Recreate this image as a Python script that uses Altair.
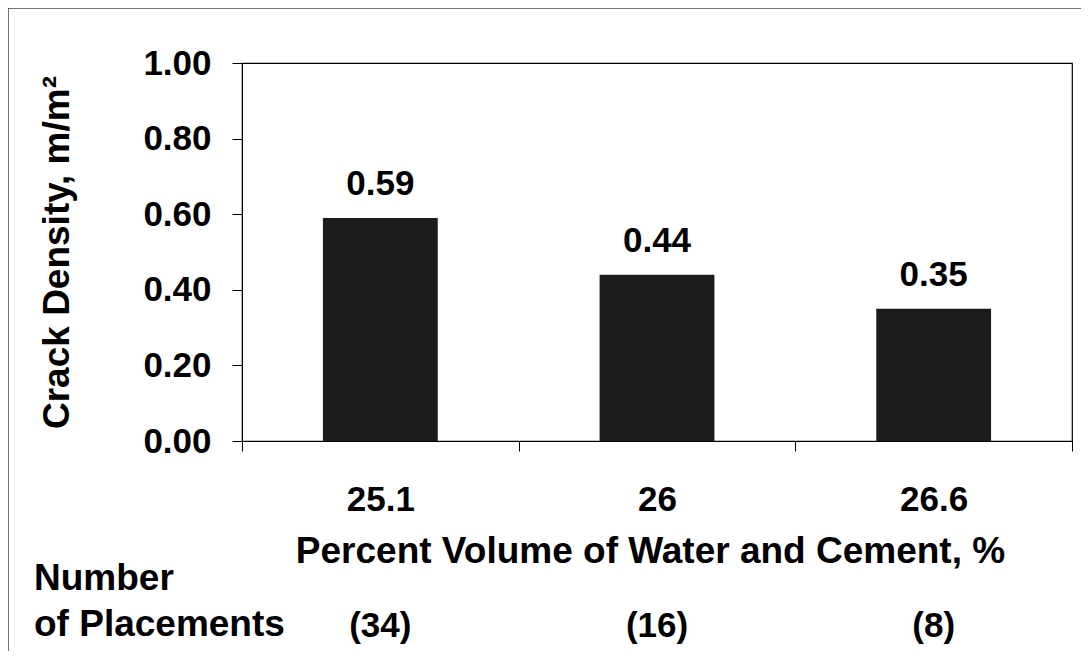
import altair as alt
import pandas as pd

categories = ["25.1", "26", "26.6"]
crack_density = [0.59, 0.44, 0.35]
value_labels = ["0.59", "0.44", "0.35"]
placements = ["(34)", "(16)", "(8)"]
y_ticks = [0.0, 0.2, 0.4, 0.6, 0.8, 1.0]
row_label = ["Number", "of Placements"]

df = pd.DataFrame({"cat": categories, "val": crack_density,
                   "lab": value_labels, "n": placements})
one = pd.DataFrame({"a": [0]})

FONT = "Liberation Sans"
FS = 35
TS = 37

x_enc = alt.X("cat:N", sort=categories,
              scale=alt.Scale(paddingInner=0, paddingOuter=0),
              axis=alt.Axis(title="Percent Volume of Water and Cement, %",
                            labelAngle=0, tickBand="extent", tickSize=10,
                            labelPadding=31, titlePadding=16, titleX=408,
                            labelFontSize=FS, titleFontSize=TS,
                            labelFont=FONT, titleFont=FONT,
                            labelFontWeight="bold", titleFontWeight="bold",
                            labelColor="black", titleColor="black",
                            domainColor="black", tickColor="black",
                            grid=False))
y_enc = alt.Y("val:Q", scale=alt.Scale(domain=[0, 1]),
              axis=alt.Axis(title="Crack Density, m/m²", values=y_ticks,
                            format=".2f", tickSize=10, labelPadding=21,
                            titlePadding=66,
                            labelFontSize=FS, titleFontSize=TS,
                            labelFont=FONT, titleFont=FONT,
                            labelFontWeight="bold", titleFontWeight="bold",
                            labelColor="black", titleColor="black",
                            domainColor="black", tickColor="black",
                            grid=False))

bars = alt.Chart(df).mark_bar(width={"band": 0.415}, color="#1c1c1c").encode(
    x=x_enc, y=y_enc)

labels = alt.Chart(df).mark_text(dy=-16, baseline="bottom", fontSize=FS,
                                 fontWeight="bold", font=FONT,
                                 color="black").encode(
    x=alt.X("cat:N", sort=categories), y="val:Q", text="lab:N")

counts = alt.Chart(df).mark_text(baseline="alphabetic", fontSize=FS,
                                 fontWeight="bold", font=FONT,
                                 color="black").encode(
    x=alt.X("cat:N", sort=categories), y=alt.value(574), text="n:N")

row = alt.Chart(one).mark_text(align="left", baseline="alphabetic",
                               fontSize=TS, fontWeight="bold", font=FONT,
                               lineHeight=46, color="black").encode(
    x=alt.value(-208), y=alt.value(527), text=alt.value(row_label))

border_left = alt.Chart(one).mark_rule(color="#444", strokeWidth=1.5).encode(
    x=alt.value(-234), y=alt.value(-55), y2=alt.value(620))
border_top = alt.Chart(one).mark_rule(color="#444", strokeWidth=1.5).encode(
    x=alt.value(-234), x2=alt.value(860), y=alt.value(-55))

chart = alt.layer(bars, labels, counts, row, border_left, border_top).properties(
    width=830, height=378,
    autosize="none",
    padding={"left": 234, "top": 55, "right": 9, "bottom": 210},
    background="white",
).configure_view(stroke="black", strokeWidth=1.2)

chart.save("out.html", embed_options={"renderer": "svg", "actions": False})
